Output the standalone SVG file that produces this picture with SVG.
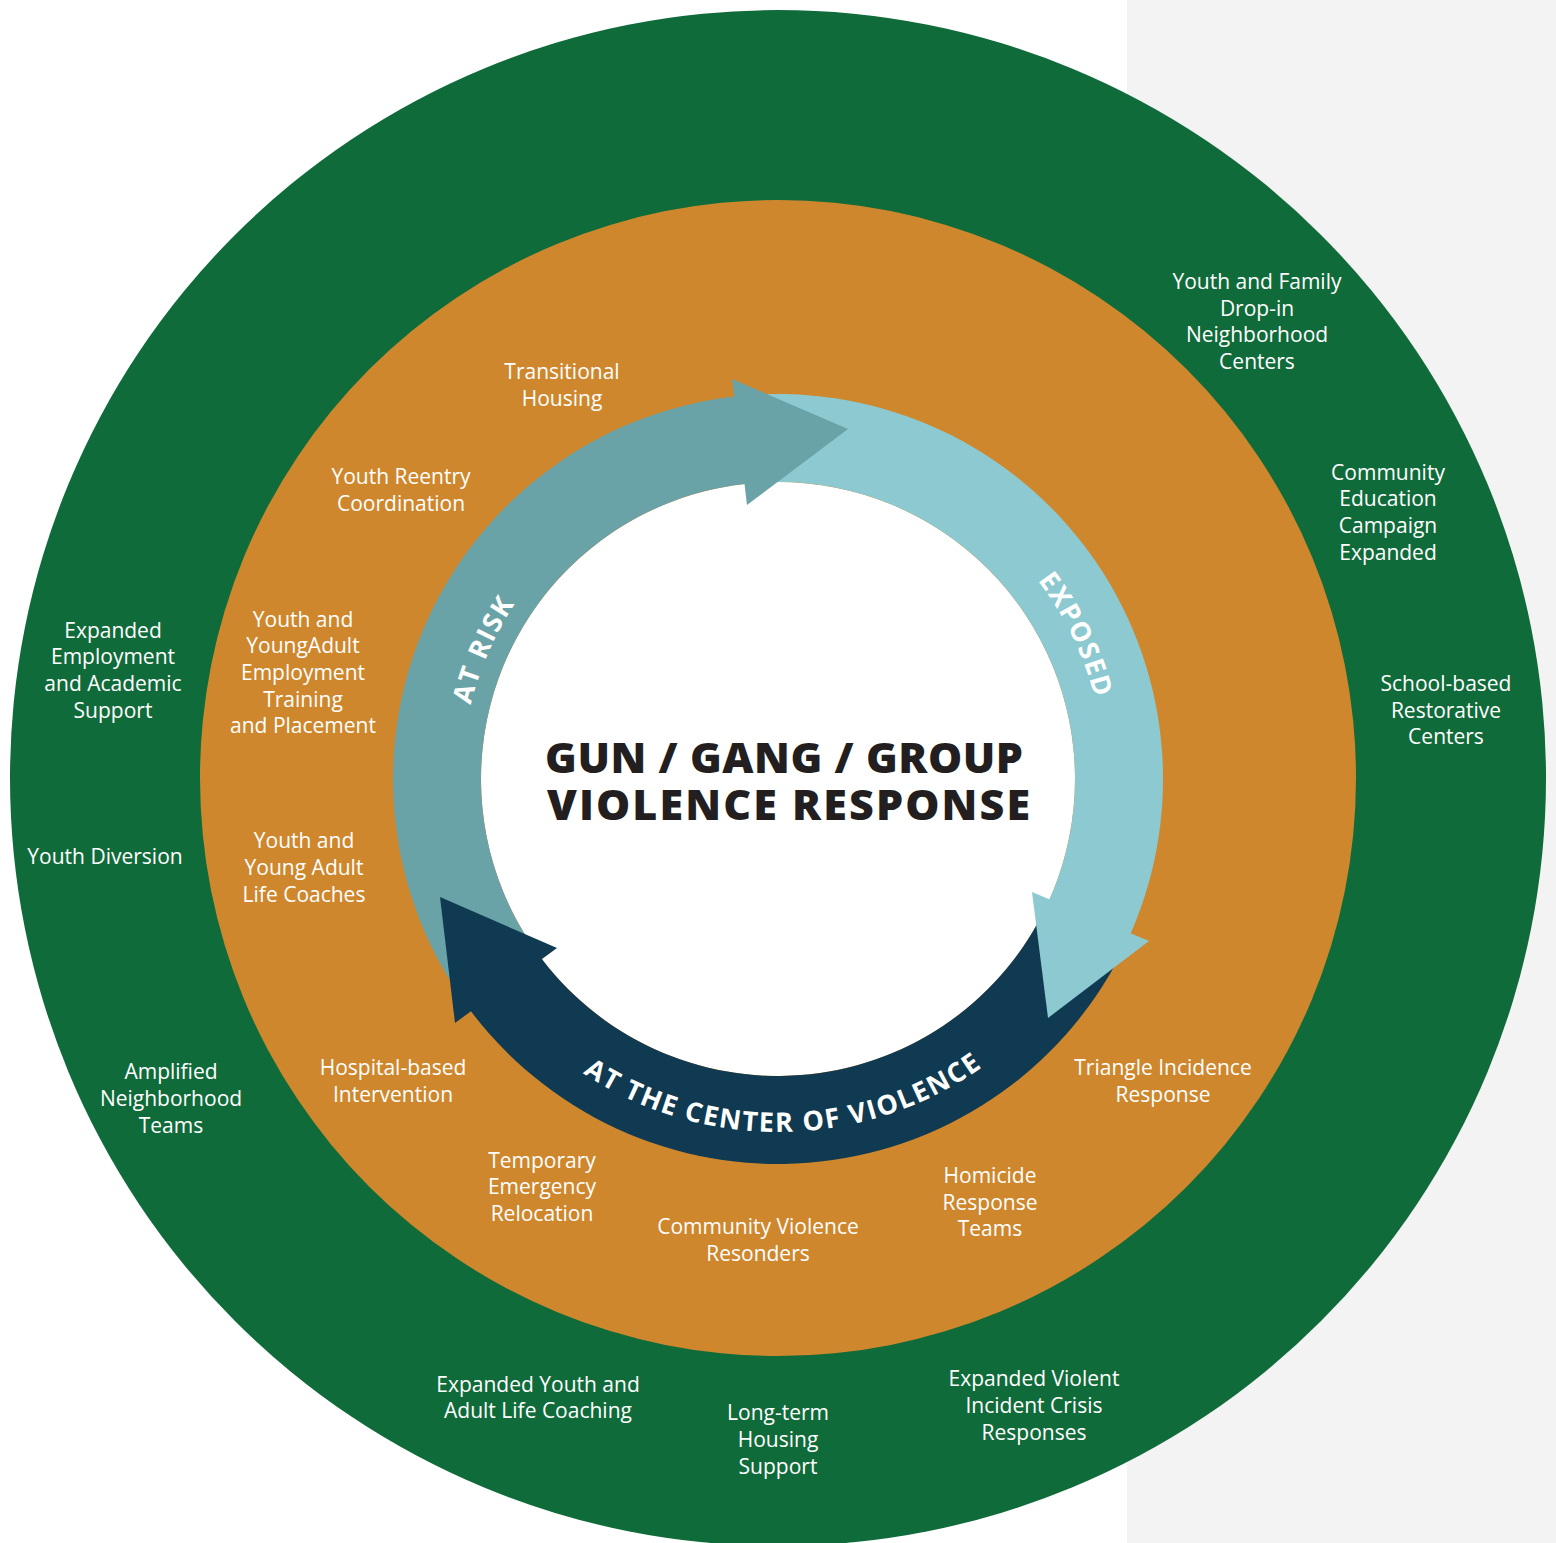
<svg xmlns="http://www.w3.org/2000/svg" width="1556" height="1543" viewBox="0 0 1556 1543">
<style>
.lbl{font-family:"Open Sans","Noto Sans","Liberation Sans",sans-serif;font-size:21px;fill:#ffffff;text-anchor:middle}
.arc{font-family:"Open Sans","Noto Sans","Liberation Sans",sans-serif;font-size:27px;font-weight:700;fill:#ffffff;letter-spacing:1.6px}
.title{font-family:"Open Sans","Noto Sans","Liberation Sans",sans-serif;font-size:43px;font-weight:800;fill:#231f20;text-anchor:middle}
</style>
<defs>
<path id="pRisk" d="M 474.70 867.69 A 316 316 0 0 1 637.99 495.71"/>
<path id="pExp" d="M 912.04 480.74 A 327 327 0 0 1 1095.01 859.22"/>
<path id="pCtr" d="M 475.42 960.81 A 353 353 0 0 0 1086.74 950.14"/>
</defs>
<rect x="0" y="0" width="1556" height="1543" fill="#ffffff"/>
<rect x="1127" y="0" width="429" height="1543" fill="#f3f3f3"/>
<g id="outer-ring"><circle cx="778" cy="778" r="768" fill="#106b3a"/></g>
<g id="middle-ring"><circle cx="778" cy="778" r="578" fill="#cf872d"/></g>
<g id="center"><circle cx="778" cy="779" r="297" fill="#ffffff"/></g>
<g id="connectors">
<path id="exposed-shaft" d="M 761.21 394.37 A 385 385 0 0 1 1126.93 941.71 L 1047.17 904.52 A 297 297 0 0 0 765.05 482.28 Z" fill="#8cc9d0"/>
<path id="center-shaft" d="M 1121.04 953.79 A 385 385 0 0 1 466.53 1005.30 L 537.72 953.57 A 297 297 0 0 0 1042.63 913.83 Z" fill="#0f3a51"/>
<path id="risk-shaft" d="M 462.63 999.83 A 385 385 0 0 1 744.44 395.47 L 752.11 483.13 A 297 297 0 0 0 534.71 949.35 Z" fill="#6aa3a7"/>
<polygon id="risk-head" points="732,379 848,429 747,505" fill="#6aa3a7"/>
<polygon id="exposed-head" points="1032,892 1149,941 1048,1018" fill="#8cc9d0"/>
<polygon id="center-head" points="440,897 557,948 455,1023" fill="#0f3a51"/>
</g>
<g id="ring-labels">
<text class="arc"><textPath href="#pRisk" startOffset="50%" text-anchor="middle">AT RISK</textPath></text>
<text class="arc"><textPath href="#pExp" startOffset="50%" text-anchor="middle">EXPOSED</textPath></text>
<text class="arc"><textPath href="#pCtr" startOffset="50%" text-anchor="middle">AT THE CENTER OF VIOLENCE</textPath></text>
</g>
<g id="title">
<text class="title"><tspan x="784" y="773" textLength="478" lengthAdjust="spacing">GUN / GANG / GROUP</tspan><tspan x="788.5" y="820" textLength="483" lengthAdjust="spacing">VIOLENCE RESPONSE</tspan></text>
</g>
<g id="node-youth-family" class="lbl"><text x="1257" y="289">Youth and Family</text><text x="1257" y="316">Drop-in</text><text x="1257" y="342">Neighborhood</text><text x="1257" y="369">Centers</text></g>
<g id="node-community-education" class="lbl"><text x="1388" y="480">Community</text><text x="1388" y="506">Education</text><text x="1388" y="533">Campaign</text><text x="1388" y="560">Expanded</text></g>
<g id="node-school-restorative" class="lbl"><text x="1446" y="691">School-based</text><text x="1446" y="718">Restorative</text><text x="1446" y="744">Centers</text></g>
<g id="node-expanded-employment" class="lbl"><text x="113" y="638">Expanded</text><text x="113" y="664">Employment</text><text x="113" y="691">and Academic</text><text x="113" y="718">Support</text></g>
<g id="node-youth-diversion" class="lbl"><text x="105" y="864">Youth Diversion</text></g>
<g id="node-amplified" class="lbl"><text x="171" y="1079">Amplified</text><text x="171" y="1106">Neighborhood</text><text x="171" y="1133">Teams</text></g>
<g id="node-expanded-coaching" class="lbl"><text x="538" y="1392">Expanded Youth and</text><text x="538" y="1418">Adult Life Coaching</text></g>
<g id="node-long-term-housing" class="lbl"><text x="778" y="1420">Long-term</text><text x="778" y="1447">Housing</text><text x="778" y="1474">Support</text></g>
<g id="node-expanded-crisis" class="lbl"><text x="1034" y="1386">Expanded Violent</text><text x="1034" y="1413">Incident Crisis</text><text x="1034" y="1440">Responses</text></g>
<g id="node-transitional-housing" class="lbl"><text x="562" y="379">Transitional</text><text x="562" y="406">Housing</text></g>
<g id="node-reentry" class="lbl"><text x="401" y="484">Youth Reentry</text><text x="401" y="511">Coordination</text></g>
<g id="node-employment-training" class="lbl"><text x="303" y="627">Youth and</text><text x="303" y="653">YoungAdult</text><text x="303" y="680">Employment</text><text x="303" y="707">Training</text><text x="303" y="733">and Placement</text></g>
<g id="node-life-coaches" class="lbl"><text x="304" y="848">Youth and</text><text x="304" y="875">Young Adult</text><text x="304" y="902">Life Coaches</text></g>
<g id="node-hospital" class="lbl"><text x="393" y="1075">Hospital-based</text><text x="393" y="1102">Intervention</text></g>
<g id="node-temporary-relocation" class="lbl"><text x="542" y="1168">Temporary</text><text x="542" y="1194">Emergency</text><text x="542" y="1221">Relocation</text></g>
<g id="node-cv-responders" class="lbl"><text x="758" y="1234">Community Violence</text><text x="758" y="1261">Resonders</text></g>
<g id="node-homicide" class="lbl"><text x="990" y="1183">Homicide</text><text x="990" y="1210">Response</text><text x="990" y="1236">Teams</text></g>
<g id="node-triangle" class="lbl"><text x="1163" y="1075">Triangle Incidence</text><text x="1163" y="1102">Response</text></g>
</svg>
